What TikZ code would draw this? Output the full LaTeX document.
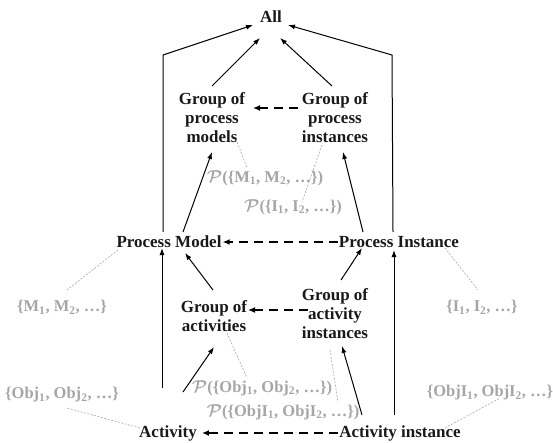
\documentclass[tikz,border=0pt]{standalone}
\usepackage{fontspec}
\setmainfont{Liberation Serif}
\usetikzlibrary{arrows.meta}
\begin{document}
\begin{tikzpicture}[x=1pt,y=-1pt,
 lbl/.style={font=\fontsize{17}{19}\selectfont\bfseries, inner sep=1pt, align=center, text=black!90},
 glbl/.style={font=\fontsize{16.5}{19}\selectfont\bfseries\boldmath, inner sep=1pt, text=gray!70},
 arr/.style={line width=1pt, -{Latex[length=7pt,width=5pt]}},
 darr/.style={line width=2.4pt, dash pattern=on 9pt off 6pt, -{Latex[length=7pt,width=6pt]}},
 dotl/.style={gray!70, line width=0.6pt, dash pattern=on 2pt off 1.5pt}]
\useasboundingbox (0,0) rectangle (553,443);

% main nodes
\node[lbl] (all) at (271,17) {All};
\node[lbl] (gpm) at (212,118) {Group of\\process\\models};
\node[lbl] (gpi) at (335,118) {Group of\\process\\instances};
\node[lbl] (pm) at (169,242) {Process Model};
\node[lbl] (pi) at (399,242) {Process Instance};
\node[lbl] (ga) at (214,316) {Group of\\activities};
\node[lbl] (gai) at (335,314) {Group of\\activity\\instances};
\node[lbl] (act) at (168,433) {Activity};
\node[lbl] (ai) at (400,433) {Activity instance};

% gray labels
\node[glbl] (pml) at (265,178) {$\mathcal{P}$(\{M\textsubscript{1}, M\textsubscript{2}, …\})};
\node[glbl] (pil) at (293,207) {$\mathcal{P}$(\{I\textsubscript{1}, I\textsubscript{2}, …\})};
\node[glbl] (mset) at (62,307) {\{M\textsubscript{1}, M\textsubscript{2}, …\}};
\node[glbl] (iset) at (482,307) {\{I\textsubscript{1}, I\textsubscript{2}, …\}};
\node[glbl] (oset) at (62,395) {\{Obj\textsubscript{1}, Obj\textsubscript{2}, …\}};
\node[glbl] (oiset) at (490,393) {\{ObjI\textsubscript{1}, ObjI\textsubscript{2}, …\}};
\node[glbl] (pol) at (262,388) {$\mathcal{P}$(\{Obj\textsubscript{1}, Obj\textsubscript{2}, …\})};
\node[glbl] (poil) at (283,412) {$\mathcal{P}$(\{ObjI\textsubscript{1}, ObjI\textsubscript{2}, …\})};

\coordinate (cl) at (163,55);
\coordinate (cr) at (392,55);

% solid arrows
\draw[arr] ([shift={(-6,-10)}]pm.center) -- (cl) -- ([shift={(-18,8)}]all.center);
\draw[arr] ([shift={(-6,-10)}]pi.center) -- (cr) -- ([shift={(17,8)}]all.center);
\draw[arr] ([shift={(0,-32)}]gpm.center) -- ([shift={(-11,21)}]all.center);
\draw[arr] ([shift={(-3,-32)}]gpi.center) -- ([shift={(9,21)}]all.center);
\draw[arr] ([shift={(14,-10)}]pm.center) -- ([shift={(0,34)}]gpm.center);
\draw[arr] ([shift={(-36,-10)}]pi.center) -- ([shift={(8,34)}]gpi.center);
\draw[arr] ([shift={(-1,-26)}]ga.center) -- ([shift={(16,11)}]pm.center);
\draw[arr] ([shift={(6,-34)}]gai.center) -- ([shift={(-37,6)}]pi.center);
\draw[arr] ([shift={(-6,-45)}]act.center) -- ([shift={(-7,6)}]pm.center);
\draw[arr] ([shift={(15,-41)}]act.center) -- ([shift={(0,31)}]ga.center);
\draw[arr] ([shift={(-38,-18)}]ai.center) -- ([shift={(7,32)}]gai.center);
\draw[arr] ([shift={(-6,-18)}]ai.center) -- ([shift={(-5,8)}]pi.center);

% dashed arrows
\draw[darr] ([shift={(-37,-10)}]gpi.center) -- ([shift={(41,-10)}]gpm.center);
\draw[darr] (pi.west) -- (pm.east);
\draw[darr] ([shift={(-27,-4)}]gai.center) -- ([shift={(34,-6)}]ga.center);
\draw[darr] (ai.west) -- ([xshift=4pt]act.east);

% dotted annotations
\draw[dotl] ([shift={(-51,8)}]pm.center) -- ([shift={(5,-17)}]mset.center);
\draw[dotl] ([shift={(46,6)}]pi.center) -- ([shift={(-4,-17)}]iset.center);
\draw[dotl] ([shift={(24,21)}]gpm.center) -- ([shift={(-18,-10)}]pml.center);
\draw[dotl] ([shift={(-13,27)}]gpi.center) -- ([shift={(9,-5)}]pil.center);
\draw[dotl] ([shift={(13,17)}]ga.center) -- ([shift={(-15,-10)}]pol.center);
\draw[dotl] ([shift={(-5,36)}]gai.center) -- ([shift={(55,-10)}]poil.center);
\draw[dotl] ([shift={(-28,-5)}]act.center) -- ([shift={(5,13)}]oset.center);
\draw[dotl] ([shift={(45,-5)}]ai.center) -- ([shift={(10,5)}]oiset.center);
\end{tikzpicture}
\end{document}
